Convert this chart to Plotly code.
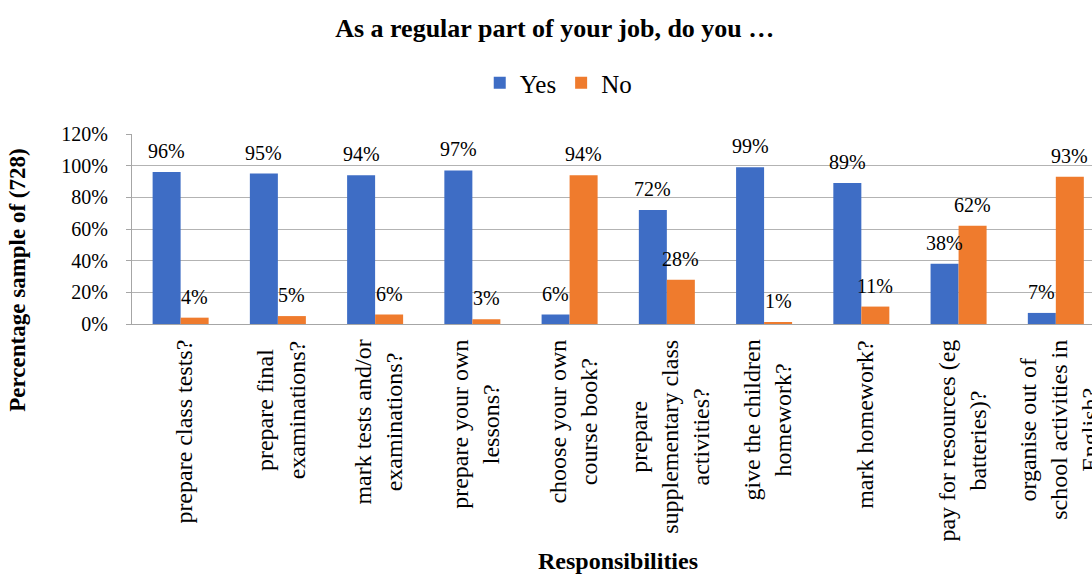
import plotly.graph_objects as go

# Survey responsibilities (category labels carry their own line breaks)
categories = [
    "prepare class tests?",
    "prepare final<br>examinations?",
    "mark tests and/or<br>examinations?",
    "prepare your own<br>lessons?",
    "choose your own<br>course book?",
    "prepare<br>supplementary class<br>activities?",
    "give the children<br>homework?",
    "mark homework?",
    "pay for resources (eg<br>batteries)?",
    "organise out of<br>school activities in<br>English?",
]
yes_pct = [96, 95, 94, 97, 6, 72, 99, 89, 38, 7]
no_pct = [4, 5, 6, 3, 94, 28, 1, 11, 62, 93]
y_ticks = [0, 20, 40, 60, 80, 100, 120]

SERIF = "Liberation Serif"
BLUE = "#3e6dc5"
ORANGE = "#ef7b2d"

fig = go.Figure()
fig.add_trace(go.Bar(x=categories, y=yes_pct, name="Yes", marker=dict(color=BLUE, line=dict(width=0))))
fig.add_trace(go.Bar(x=categories, y=no_pct, name="No", marker=dict(color=ORANGE, line=dict(width=0))))

annotations = []
# value labels above each bar
for cat, yv, nv in zip(categories, yes_pct, no_pct):
    for val, dx in ((yv, -14), (nv, 14)):
        annotations.append(dict(
            x=cat, y=val, xref="x", yref="y", text=f"{val}%", showarrow=False,
            xshift=dx, yshift=21, yanchor="middle", xanchor="center",
            font=dict(family=SERIF, size=20, color="#000000"),
        ))
# rotated category labels, lines centred on each other
for cat in categories:
    annotations.append(dict(
        x=cat, y=0, xref="x", yref="paper", text=cat, showarrow=False,
        textangle=-90, align="center", xanchor="center", yanchor="top",
        xshift=3, yshift=-14,
        font=dict(family=SERIF, size=24, color="#000000"),
    ))
# axis titles
annotations.append(dict(
    x=0.506, y=-1.247, xref="paper", yref="paper", text="<b>Responsibilities</b>",
    showarrow=False, xanchor="center", yanchor="middle",
    font=dict(family=SERIF, size=24, color="#000000"),
))
annotations.append(dict(
    x=-0.119, y=0.232, xref="paper", yref="paper", text="<b>Percentage sample of (728)</b>",
    showarrow=False, xanchor="center", yanchor="middle", textangle=-90,
    font=dict(family=SERIF, size=23, color="#000000"),
))

fig.update_layout(
    width=1092, height=575,
    margin=dict(l=132, r=0, t=134, b=251, autoexpand=False),
    paper_bgcolor="#ffffff", plot_bgcolor="#ffffff",
    barmode="group", bargap=0.424, bargroupgap=0,
    title=dict(
        text="<b>As a regular part of your job, do you …</b>",
        x=0.508, xref="container", xanchor="center",
        y=0.951, yref="container", yanchor="middle",
        font=dict(family=SERIF, size=26, color="#000000"),
    ),
    legend=dict(
        orientation="h", x=0.444, xanchor="center", y=1.268, yanchor="middle",
        font=dict(family=SERIF, size=25, color="#000000"),
        itemwidth=30, traceorder="normal", bgcolor="rgba(0,0,0,0)",
    ),
    xaxis=dict(
        range=[-0.5, 9.372], showticklabels=False, ticks="",
        showgrid=False, showline=True, linecolor="#a6a6a6", linewidth=1,
        zeroline=False, fixedrange=True,
    ),
    yaxis=dict(
        range=[0, 120], tickvals=y_ticks, ticktext=[f"{t}%" for t in y_ticks],
        showgrid=True, gridcolor="#b3b3b3", gridwidth=1,
        showline=True, linecolor="#a6a6a6", linewidth=1,
        ticks="outside", ticklen=5, tickcolor="#a6a6a6", ticklabelstandoff=14,
        zeroline=False,
        tickfont=dict(family=SERIF, size=20, color="#000000"),
    ),
    annotations=annotations,
    showlegend=True,
)

fig.write_html("out.html")
